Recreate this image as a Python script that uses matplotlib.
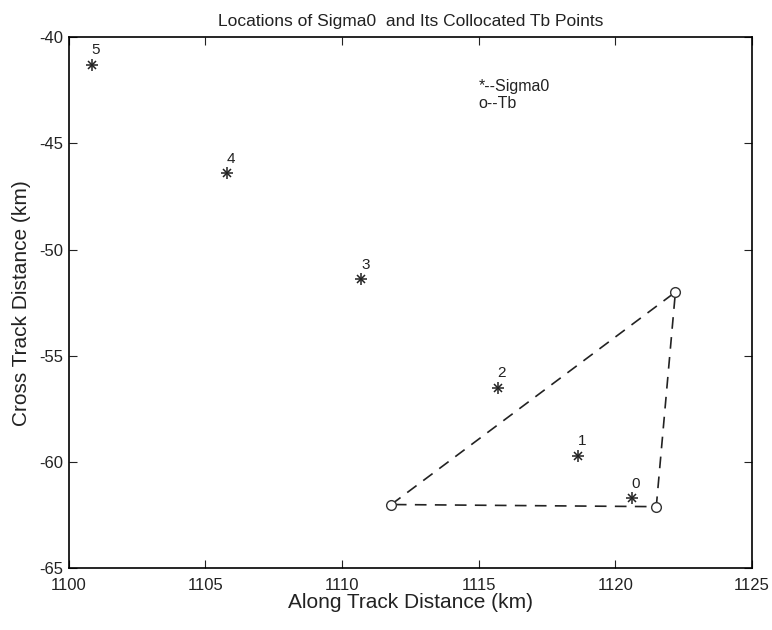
import numpy as np
import matplotlib.pyplot as plt

# Sigma0 cell centres (km) and their index labels
sigma_x = [1120.6, 1118.65, 1115.7, 1110.7, 1105.8, 1100.85]
sigma_y = [-61.7, -59.7, -56.5, -51.4, -46.4, -41.3]
sigma_lbl = ['0', '1', '2', '3', '4', '5']

# collocated Tb points (closed triangle)
tb_x = [1111.8, 1122.2, 1121.5]
tb_y = [-62.0, -52.0, -62.1]

plt.rcParams['font.family'] = ['Liberation Sans', 'DejaVu Sans']
plt.rcParams['axes.unicode_minus'] = False

fig = plt.figure(figsize=(7.72, 6.3), dpi=100)
ax = fig.add_axes([0.089, 0.098, 0.885, 0.843])

# Tb triangle
ax.plot(tb_x + tb_x[:1], tb_y + tb_y[:1], '--', color='#222222', lw=1.2, dashes=(7, 5))
ax.plot(tb_x, tb_y, 'o', ms=7, mfc='white', mec='#333333', mew=1.0)

# Sigma0 points, matlab-style asterisk
ax.plot(sigma_x, sigma_y, '+', color='#222222', ms=8, mew=1.1)
ax.plot(sigma_x, sigma_y, 'x', color='#222222', ms=6, mew=1.1)
for x, y, s in zip(sigma_x, sigma_y, sigma_lbl):
    ax.text(x + 0.15, y + 0.35, s, fontsize=11, ha='center', va='bottom', color='#222222')

ax.text(1115.0, -42.3, '*--Sigma0', fontsize=11.5, ha='left', va='center', color='#222222')
ax.text(1115.0, -43.1, 'o--Tb', fontsize=11.5, ha='left', va='center', color='#222222')

ax.set_xlim(1100, 1125)
ax.set_ylim(-65, -40)
ax.set_xticks(np.arange(1100, 1126, 5))
ax.set_yticks(np.arange(-65, -39, 5))
ax.tick_params(direction='in', top=True, right=True, length=6, labelsize=12, colors='#222222')
ax.tick_params(axis='x', pad=7)
ax.tick_params(axis='y', pad=4)
for sp in ax.spines.values():
    sp.set_linewidth(1.2)

ax.set_title('Locations of Sigma0  and Its Collocated Tb Points', fontsize=12.5, color='#222222', pad=8)
ax.set_xlabel('Along Track Distance (km)', fontsize=15, color='#222222', labelpad=0)
ax.set_ylabel('Cross Track Distance (km)', fontsize=15, color='#222222', labelpad=6)

fig.savefig('out.png', dpi=100)
